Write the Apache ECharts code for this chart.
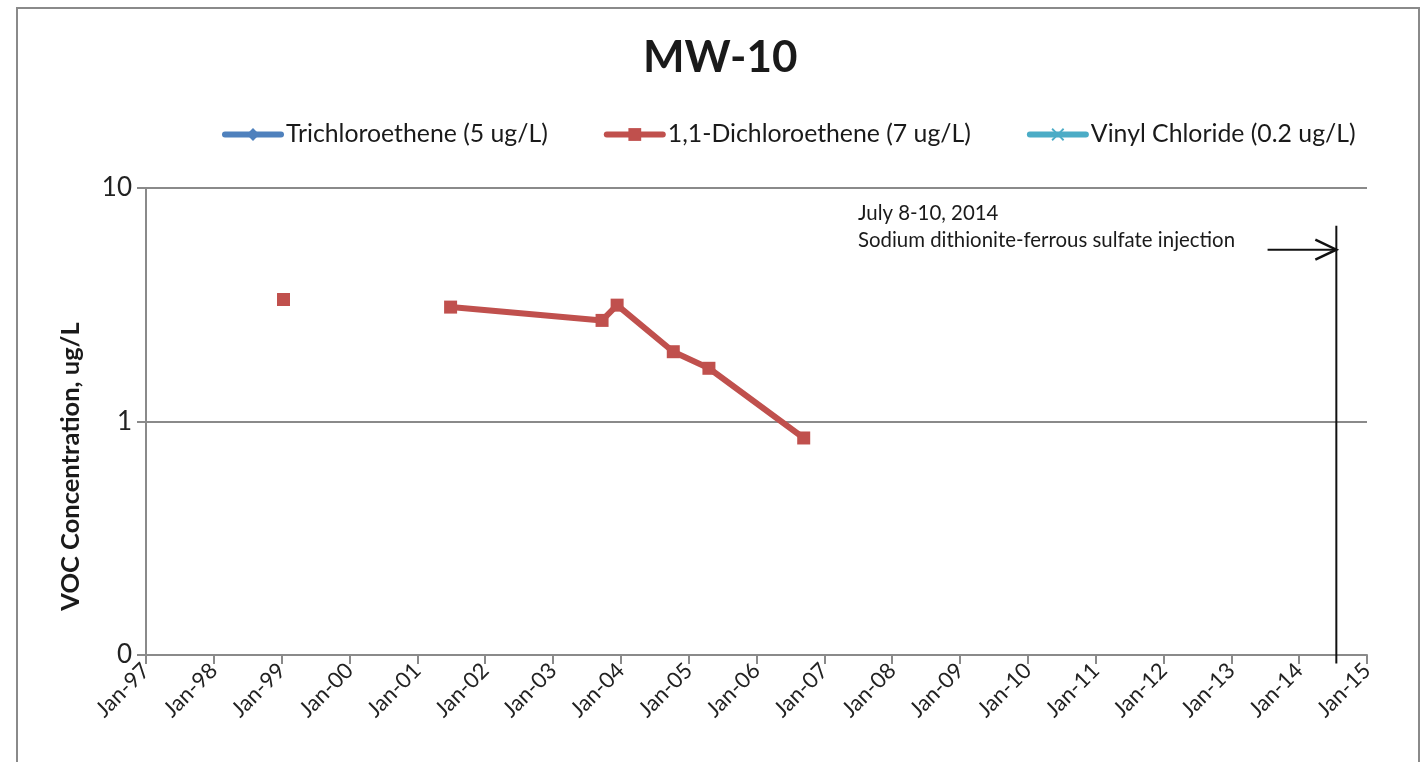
<!DOCTYPE html>
<html><head><meta charset="utf-8">
<script src="https://cdn.jsdelivr.net/npm/echarts@6/dist/echarts.min.js"></script>
<style>html,body{margin:0;padding:0;background:#fff}#c{width:1421px;height:762px}</style>
</head><body><div id="c"></div>
<script>
// ---- data ----
const sampleDates = ['1999-01-11','2001-06-29','2003-09-22','2003-12-12','2004-10-10','2005-04-20','2006-09-12'];
const dceValues   = [3.33, 3.09, 2.71, 3.15, 1.99, 1.69, 0.85];
const dceBreakAfter = [0];           // line is not drawn between sample 0 and 1
const tceDates = [];  const tceValues = [];
const vcDates = [];   const vcValues = [];
const seriesNames = ['Trichloroethene (5 ug/L)', '1,1-Dichloroethene (7 ug/L)', 'Vinyl Chloride (0.2 ug/L)'];
const xStartYear = 1997, xEndYear = 2015;
const yTickLabels = {'0.1':'0', '1':'1', '10':'10'};
// annotation
const injectionDate = '2014-07-20';
const injectionLineTop = 6.9, injectionLineBottom = 0.092;
const arrowStartDate = '2013-07-15', arrowValue = 5.44;
const noteDate = '2007-07-01';
const noteLines = ['July 8-10, 2014', 'Sodium dithionite-ferrous sulfate injection'];
const noteValues = [7.8, 5.96];

function toYear(s){
  const [y,m,d] = s.split('-').map(Number);
  const a = Date.UTC(y,0,1), b = Date.UTC(y+1,0,1);
  return y + (Date.UTC(y,m-1,d) - a) / (b - a);
}
function build(dates, vals, breaks){
  const out = [];
  dates.forEach((d,i)=>{
    out.push([toYear(d), vals[i]]);
    if (breaks && breaks.includes(i)) out.push([toYear(d), null]);
  });
  return out;
}

const FONT = 'Lato';
const chart = echarts.init(document.getElementById('c'));
const option = {
  animation: false,
  backgroundColor: '#fff',
  textStyle: { fontFamily: FONT },
  title: { text: 'MW-10', left: 638, top: 31,
    textStyle: { fontFamily: FONT, fontSize: 44, fontWeight: 'bold', color: '#1a1a1a' } },
  legend: {
    data: seriesNames, left: 217, top: 117, itemWidth: 56, itemHeight: 16, itemGap: 56,
    lineStyle: { width: 6, cap: 'round' },
    textStyle: { fontFamily: FONT, fontSize: 24.8, color: '#1a1a1a' }
  },
  grid: { left: 146, right: 54, top: 188, bottom: 107, containLabel: false },
  xAxis: {
    type: 'value', min: xStartYear, max: xEndYear, interval: 1,
    axisLine: { show: true, lineStyle: { color: '#8a8a8a', width: 2 } },
    axisTick: { show: true, length: 9, lineStyle: { color: '#8a8a8a', width: 2 } },
    splitLine: { show: false },
    axisLabel: { rotate: 45, fontSize: 22, color: '#222', margin: 12, fontFamily: FONT,
      formatter: v => 'Jan-' + String(Math.round(v)).slice(2) }
  },
  yAxis: {
    type: 'log', logBase: 10, min: 0.1, max: 10,
    name: 'VOC Concentration, ug/L', nameLocation: 'middle', nameGap: 62,
    nameTextStyle: { fontFamily: FONT, fontSize: 25.5, fontWeight: 'bold', color: '#1a1a1a',
      padding: [0, 90, 0, 0] },
    axisLine: { show: true, lineStyle: { color: '#8a8a8a', width: 2 } },
    axisTick: { show: true, length: 9, lineStyle: { color: '#8a8a8a', width: 2 } },
    splitLine: { show: true, lineStyle: { color: '#8a8a8a', width: 2 } },
    axisLabel: { fontSize: 26, color: '#222', margin: 14, fontFamily: FONT,
      formatter: v => yTickLabels[String(+(+v).toPrecision(3))] ?? String(v) }
  },
  series: [
    { name: seriesNames[0], type: 'line', data: build(tceDates, tceValues),
      color: '#4F81BD', symbol: 'diamond', symbolSize: 11, lineStyle: { width: 6 } },
    { name: seriesNames[1], type: 'line', data: build(sampleDates, dceValues, dceBreakAfter),
      connectNulls: false, color: '#C0504D', symbol: 'rect', symbolSize: 13,
      lineStyle: { width: 6 }, itemStyle: { color: '#C0504D' } },
    { name: seriesNames[2], type: 'line', data: build(vcDates, vcValues),
      color: '#4BACC6', symbol: 'path://M0,2 L2,0 L10,8 L18,0 L20,2 L12,10 L20,18 L18,20 L10,12 L2,20 L0,18 L8,10 Z',
      symbolSize: 11, lineStyle: { width: 6 } }
  ]
};
chart.setOption(option);

function px(x,y){ return chart.convertToPixel({gridIndex:0},[x,y]); }
const xInj = toYear(injectionDate);
const pTop = px(xInj, injectionLineTop), pBot = px(xInj, injectionLineBottom);
const a0 = px(toYear(arrowStartDate), arrowValue), a1 = px(xInj, arrowValue);
const n0 = px(toYear(noteDate), noteValues[0]), n1 = px(toYear(noteDate), noteValues[1]);
chart.setOption({
  graphic: [
    { type: 'rect', shape: { x: 17, y: 8, width: 1402, height: 800 },
      style: { fill: 'none', stroke: '#8a8a8a', lineWidth: 2 }, silent: true },
    { type: 'line', shape: { x1: pTop[0], y1: pTop[1], x2: pBot[0], y2: pBot[1] },
      style: { stroke: '#111', lineWidth: 2 }, z: 10 },
    { type: 'line', shape: { x1: a0[0], y1: a0[1], x2: a1[0], y2: a1[1] },
      style: { stroke: '#111', lineWidth: 2 }, z: 10 },
    { type: 'polyline', shape: { points: [[a1[0]-21, a1[1]-10],[a1[0], a1[1]],[a1[0]-21, a1[1]+10]] },
      style: { stroke: '#111', lineWidth: 2.5, fill: 'none' }, z: 10 },
    { type: 'text', x: n0[0], y: n0[1], style: { text: noteLines[0], fontFamily: FONT, fontSize: 20.4,
      fill: '#1a1a1a', verticalAlign: 'middle' }, z: 10 },
    { type: 'text', x: n1[0], y: n1[1], style: { text: noteLines[1], fontFamily: FONT, fontSize: 20.4,
      fill: '#1a1a1a', verticalAlign: 'middle' }, z: 10 }
  ]
});
</script></body></html>
